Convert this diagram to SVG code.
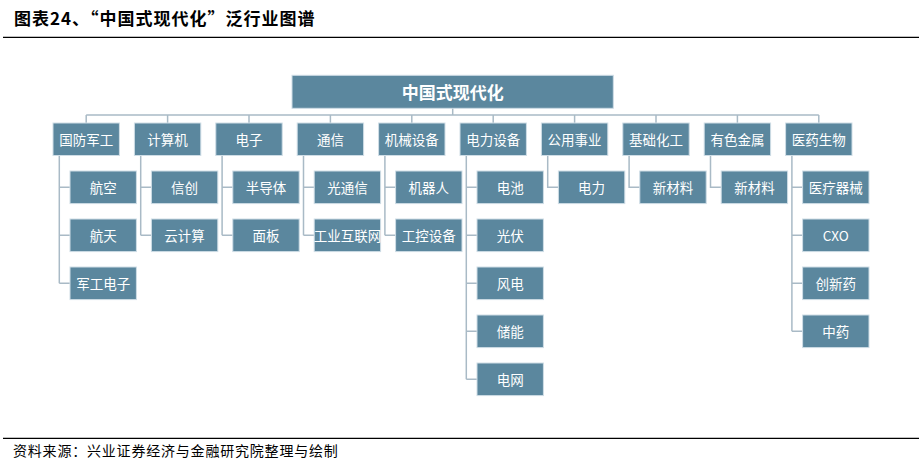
<svg xmlns="http://www.w3.org/2000/svg" width="924" height="462" viewBox="0 0 924 462">
<style>
.bx{fill:#5b879e;stroke:#cfdde6;stroke-width:1}
.t{fill:#ffffff;font-family:"Noto Sans CJK SC","Liberation Sans",sans-serif;font-size:13.5px;text-anchor:middle;dominant-baseline:central}
.tb{font-size:17px;font-weight:bold}
.c{fill:none;stroke:#a9bac6;stroke-width:1.5}
.hd{font-family:"Noto Sans CJK SC",sans-serif;font-size:17px;font-weight:bold;fill:#000;dominant-baseline:central;letter-spacing:1px}
.ft{font-family:"Noto Sans CJK SC",sans-serif;font-size:14px;fill:#000;dominant-baseline:central;letter-spacing:0.8px}
.rule{stroke:#000;stroke-width:1.3}
</style>
<rect width="924" height="462" fill="#ffffff"/>
<text class="hd" x="14" y="17.5">图表24、“中国式现代化”泛行业图谱</text>
<line class="rule" x1="3" y1="37.3" x2="919" y2="37.3"/>
<line class="rule" x1="3" y1="438.3" x2="919" y2="438.3"/>
<text class="ft" x="13" y="450">资料来源：兴业证券经济与金融研究院整理与绘制</text>

<g id="connectors">
<path class="c" d="M452.7,108 V115 M86.2,115 H818.8"/>
<path class="c" d="M86.2,115 V123 M167.6,115 V123 M249,115 V123 M330.4,115 V123 M411.8,115 V123 M493.2,115 V123 M574.6,115 V123 M656,115 V123 M737.4,115 V123 M818.8,115 V123"/>
<path class="c" d="M59.3,155.5 V283.3 M59.3,187.3 H70 M59.3,235.3 H70 M59.3,283.3 H70"/>
<path class="c" d="M140.7,155.5 V235.3 M140.7,187.3 H151.4 M140.7,235.3 H151.4"/>
<path class="c" d="M222.1,155.5 V235.3 M222.1,187.3 H232.8 M222.1,235.3 H232.8"/>
<path class="c" d="M303.5,155.5 V235.3 M303.5,187.3 H314.2 M303.5,235.3 H314.2"/>
<path class="c" d="M384.9,155.5 V235.3 M384.9,187.3 H395.6 M384.9,235.3 H395.6"/>
<path class="c" d="M466.3,155.5 V379.3 M466.3,187.3 H477 M466.3,235.3 H477 M466.3,283.3 H477 M466.3,331.3 H477 M466.3,379.3 H477"/>
<path class="c" d="M547.7,155.5 V187.3 H558.4"/>
<path class="c" d="M629.1,155.5 V187.3 H639.8"/>
<path class="c" d="M710.5,155.5 V187.3 H721.2"/>
<path class="c" d="M791.9,155.5 V331.3 M791.9,187.3 H802.6 M791.9,235.3 H802.6 M791.9,283.3 H802.6 M791.9,331.3 H802.6"/>
</g>

<g id="root"><rect class="bx" x="292" y="75.3" width="321.3" height="33"/><text class="t tb" x="452.7" y="91.8">中国式现代化</text></g>

<g id="p0"><rect class="bx" x="53" y="123" width="66.4" height="32.5"/><text class="t" x="86.2" y="139.3">国防军工</text></g>
<g id="p1"><rect class="bx" x="134.4" y="123" width="66.4" height="32.5"/><text class="t" x="167.6" y="139.3">计算机</text></g>
<g id="p2"><rect class="bx" x="215.8" y="123" width="66.4" height="32.5"/><text class="t" x="249" y="139.3">电子</text></g>
<g id="p3"><rect class="bx" x="297.2" y="123" width="66.4" height="32.5"/><text class="t" x="330.4" y="139.3">通信</text></g>
<g id="p4"><rect class="bx" x="378.6" y="123" width="66.4" height="32.5"/><text class="t" x="411.8" y="139.3">机械设备</text></g>
<g id="p5"><rect class="bx" x="460" y="123" width="66.4" height="32.5"/><text class="t" x="493.2" y="139.3">电力设备</text></g>
<g id="p6"><rect class="bx" x="541.4" y="123" width="66.4" height="32.5"/><text class="t" x="574.6" y="139.3">公用事业</text></g>
<g id="p7"><rect class="bx" x="622.8" y="123" width="66.4" height="32.5"/><text class="t" x="656" y="139.3">基础化工</text></g>
<g id="p8"><rect class="bx" x="704.2" y="123" width="66.4" height="32.5"/><text class="t" x="737.4" y="139.3">有色金属</text></g>
<g id="p9"><rect class="bx" x="785.6" y="123" width="66.4" height="32.5"/><text class="t" x="818.8" y="139.3">医药生物</text></g>

<g id="c0a"><rect class="bx" x="70" y="171" width="66.4" height="32.6"/><text class="t" x="103.2" y="187.3">航空</text></g>
<g id="c0b"><rect class="bx" x="70" y="219" width="66.4" height="32.6"/><text class="t" x="103.2" y="235.3">航天</text></g>
<g id="c0c"><rect class="bx" x="70" y="267" width="66.4" height="32.6"/><text class="t" x="103.2" y="283.3">军工电子</text></g>

<g id="c1a"><rect class="bx" x="151.4" y="171" width="66.4" height="32.6"/><text class="t" x="184.6" y="187.3">信创</text></g>
<g id="c1b"><rect class="bx" x="151.4" y="219" width="66.4" height="32.6"/><text class="t" x="184.6" y="235.3">云计算</text></g>

<g id="c2a"><rect class="bx" x="232.8" y="171" width="66.4" height="32.6"/><text class="t" x="266" y="187.3">半导体</text></g>
<g id="c2b"><rect class="bx" x="232.8" y="219" width="66.4" height="32.6"/><text class="t" x="266" y="235.3">面板</text></g>

<g id="c3a"><rect class="bx" x="314.2" y="171" width="66.4" height="32.6"/><text class="t" x="347.4" y="187.3">光通信</text></g>
<g id="c3b"><rect class="bx" x="314.2" y="219" width="66.4" height="32.6"/><text class="t" x="347.4" y="235.3">工业互联网</text></g>

<g id="c4a"><rect class="bx" x="395.6" y="171" width="66.4" height="32.6"/><text class="t" x="428.8" y="187.3">机器人</text></g>
<g id="c4b"><rect class="bx" x="395.6" y="219" width="66.4" height="32.6"/><text class="t" x="428.8" y="235.3">工控设备</text></g>

<g id="c5a"><rect class="bx" x="477" y="171" width="66.4" height="32.6"/><text class="t" x="510.2" y="187.3">电池</text></g>
<g id="c5b"><rect class="bx" x="477" y="219" width="66.4" height="32.6"/><text class="t" x="510.2" y="235.3">光伏</text></g>
<g id="c5c"><rect class="bx" x="477" y="267" width="66.4" height="32.6"/><text class="t" x="510.2" y="283.3">风电</text></g>
<g id="c5d"><rect class="bx" x="477" y="315" width="66.4" height="32.6"/><text class="t" x="510.2" y="331.3">储能</text></g>
<g id="c5e"><rect class="bx" x="477" y="363" width="66.4" height="32.6"/><text class="t" x="510.2" y="379.3">电网</text></g>

<g id="c6a"><rect class="bx" x="558.4" y="171" width="66.4" height="32.6"/><text class="t" x="591.6" y="187.3">电力</text></g>
<g id="c7a"><rect class="bx" x="639.8" y="171" width="66.4" height="32.6"/><text class="t" x="673" y="187.3">新材料</text></g>
<g id="c8a"><rect class="bx" x="721.2" y="171" width="66.4" height="32.6"/><text class="t" x="754.4" y="187.3">新材料</text></g>

<g id="c9a"><rect class="bx" x="802.6" y="171" width="66.4" height="32.6"/><text class="t" x="835.8" y="187.3">医疗器械</text></g>
<g id="c9b"><rect class="bx" x="802.6" y="219" width="66.4" height="32.6"/><text class="t" x="835.8" y="235.3">CXO</text></g>
<g id="c9c"><rect class="bx" x="802.6" y="267" width="66.4" height="32.6"/><text class="t" x="835.8" y="283.3">创新药</text></g>
<g id="c9d"><rect class="bx" x="802.6" y="315" width="66.4" height="32.6"/><text class="t" x="835.8" y="331.3">中药</text></g>
</svg>
